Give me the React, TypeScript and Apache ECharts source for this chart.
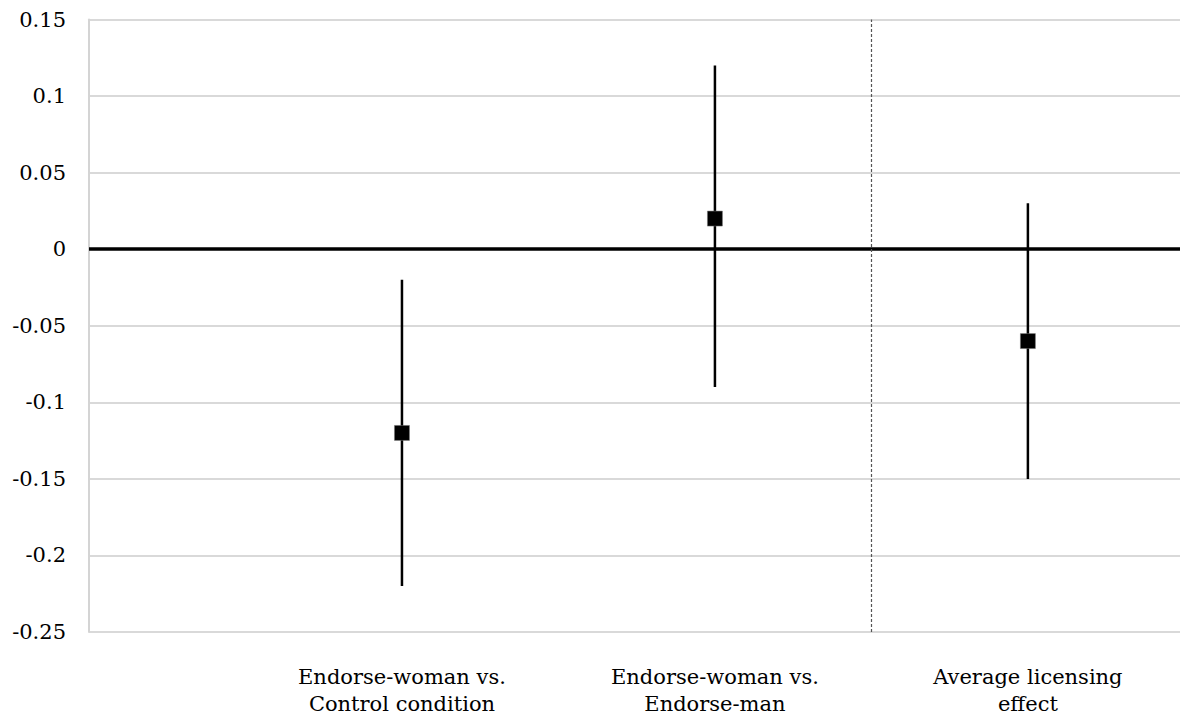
import React, { useEffect, useRef } from "react";
import * as echarts from "echarts";

const categories = ["Endorse-woman vs.\nControl condition", "Endorse-woman vs.\nEndorse-man", "Average licensing\neffect"];
const positions = [1, 2, 3];
const estimates = [-0.12, 0.02, -0.06];
const lowerCI = [-0.22, -0.09, -0.15];
const upperCI = [-0.02, 0.12, 0.03];
const dividerX = 2.5;

const FONT = "DejaVu Serif";

export default function App() {
  const ref = useRef<HTMLDivElement>(null);
  useEffect(() => {
    if (!ref.current) return;
    const chart = echarts.init(ref.current, undefined, { renderer: "svg" });
    const errData = positions.map((p, i) => [p, lowerCI[i], upperCI[i]]);
    const ptData = positions.map((p, i) => [p, estimates[i]]);
    chart.setOption({
      animation: false,
      backgroundColor: "#ffffff",
      textStyle: { fontFamily: FONT },
      grid: { left: 89, right: 0, top: 19.5, bottom: 90, containLabel: false },
      xAxis: {
        type: "value",
        min: 0,
        max: 3.486,
        interval: 1,
        axisLine: { show: false },
        axisTick: { show: false },
        splitLine: { show: false },
        axisLabel: {
          show: true,
          margin: 31,
          color: "#000",
          fontFamily: FONT,
          fontSize: 21,
          lineHeight: 27,
          align: "center",
          showMaxLabel: false,
          formatter: (v: number) => {
            const idx = positions.indexOf(Math.round(v * 1000) / 1000);
            return idx >= 0 ? categories[idx] : "";
          },
        },
      },
      yAxis: {
        type: "value",
        min: -0.25,
        max: 0.15,
        interval: 0.05,
        axisLine: { show: true, lineStyle: { color: "#d4d4d4", width: 2 } },
        axisTick: { show: false },
        splitLine: { show: true, lineStyle: { color: "#d9d9d9", width: 2 } },
        axisLabel: {
          color: "#000",
          fontFamily: FONT,
          fontSize: 21,
          margin: 23,
          formatter: (v: number) => String(parseFloat(v.toFixed(2))),
        },
      },
      series: [
        {
          type: "custom",
          data: errData,
          z: 3,
          renderItem: (params: any, api: any) => {
            const x = api.value(0);
            const lo = api.coord([x, api.value(1)]);
            const hi = api.coord([x, api.value(2)]);
            return {
              type: "line",
              shape: { x1: lo[0], y1: lo[1], x2: hi[0], y2: hi[1] },
              style: { stroke: "#000", lineWidth: 2.5 },
            };
          },
          markLine: {
            silent: true,
            symbol: "none",
            label: { show: false },
            data: [
              { yAxis: 0, lineStyle: { color: "#000", width: 3.5, type: "solid" } },
              { xAxis: dividerX, lineStyle: { color: "#555", width: 1.2, type: [3, 2] } },
            ],
          },
        },
        {
          type: "scatter",
          data: ptData,
          symbol: "rect",
          symbolSize: 15,
          itemStyle: { color: "#000", opacity: 1, borderColor: "#777", borderWidth: 0.5 },
          z: 4,
        },
      ],
    });
    return () => chart.dispose();
  }, []);
  return (
    <div
      ref={ref}
      style={{ position: "fixed", left: 0, top: 0, width: 1180, height: 722, background: "#fff" }}
    />
  );
}
